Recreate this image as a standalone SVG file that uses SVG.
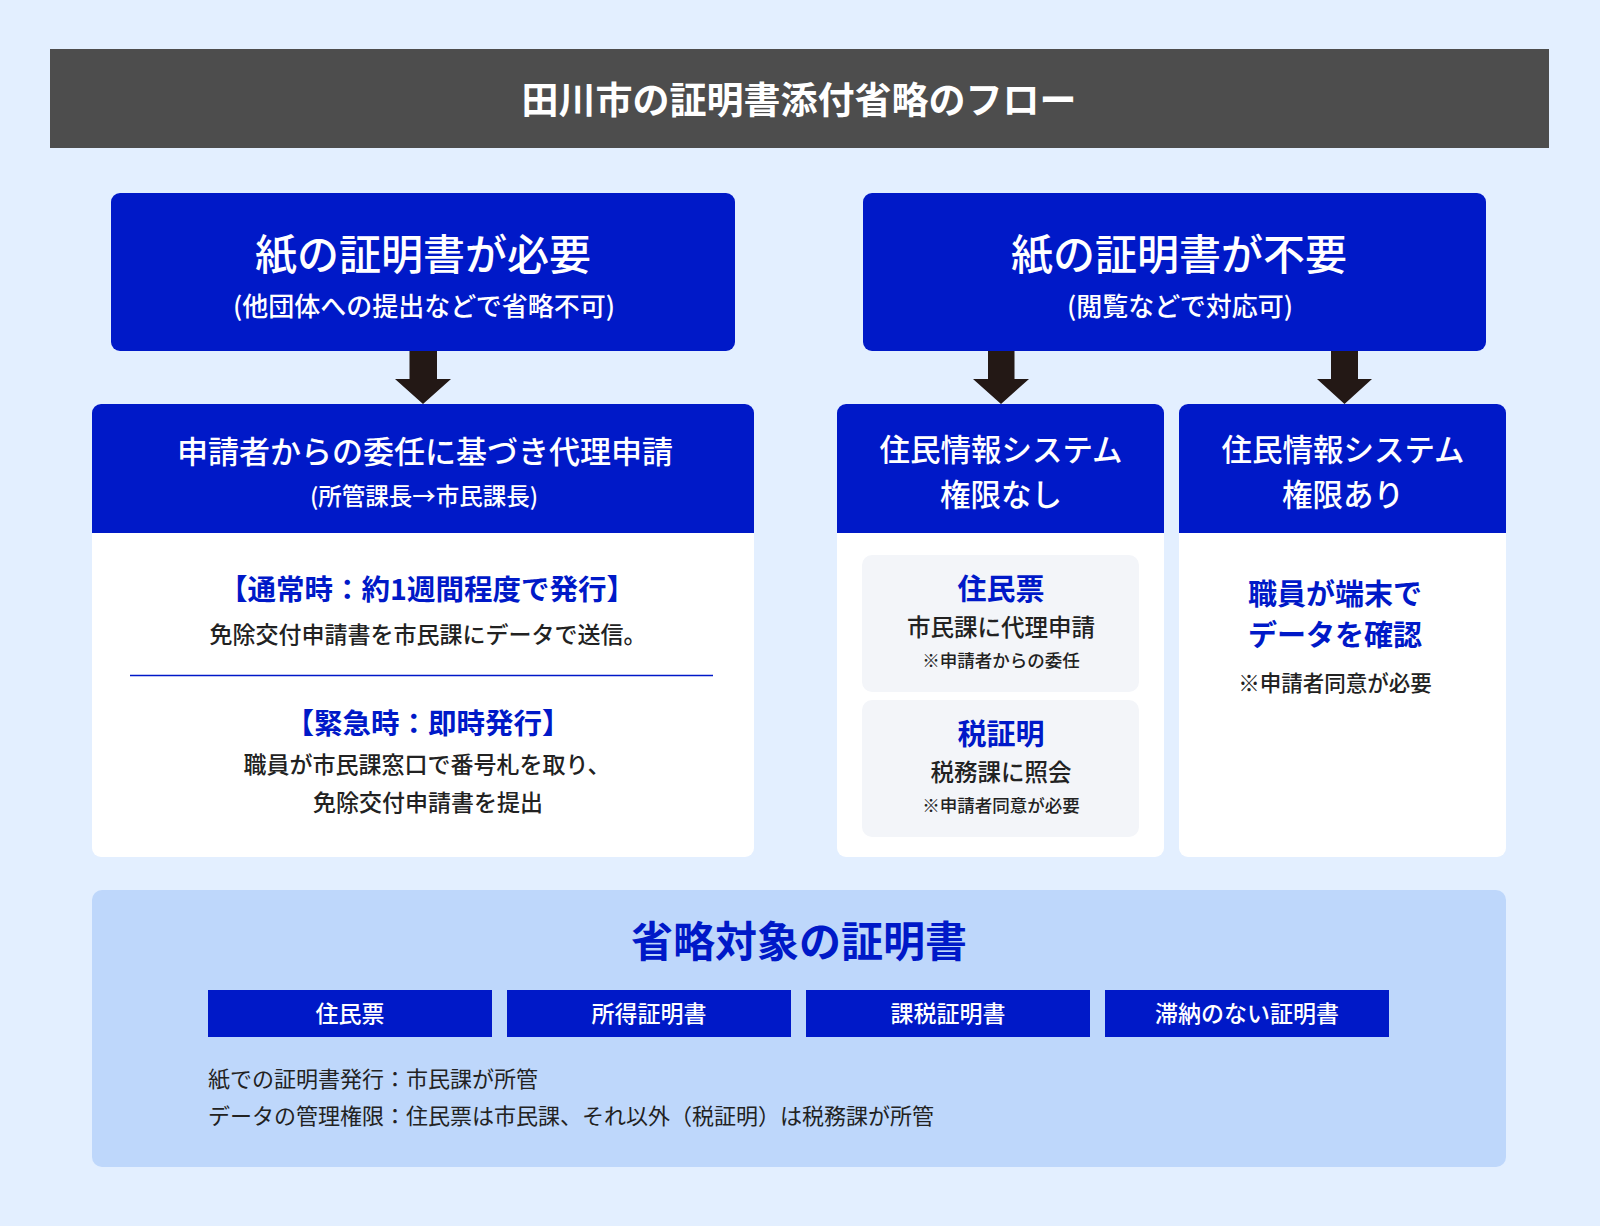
<svg xmlns="http://www.w3.org/2000/svg" width="1600" height="1226" viewBox="0 0 1600 1226">
<defs>
<style>
text{font-family:"Noto Sans CJK JP","Noto Sans CJK SC",sans-serif;}
.c{text-anchor:middle;}
.w{fill:#ffffff;}
.b{fill:#0019c8;}
.d{fill:#222222;}
.blue{fill:#0019c8;}
.arrow{fill:#231815;}
.card{fill:#ffffff;}
.inner{fill:#f3f5f9;}
.tag{fill:#0019c8;}
</style>
</defs>
<rect x="0" y="0" width="1600" height="1226" fill="#e3efff"/>

<g id="title">
<rect x="50" y="49" width="1499" height="99" fill="#4d4d4d"/>
<text x="799" y="114" class="c w" font-size="37" font-weight="700">田川市の証明書添付省略のフロー</text>
</g>

<g id="paper-required">
<rect x="111" y="193" width="624" height="158" rx="9" class="blue"/>
<text x="423" y="270" class="c w" font-size="42" font-weight="500">紙の証明書が必要</text>
<text x="424" y="316" class="c w" font-size="26" font-weight="500">(他団体への提出などで省略不可)</text>
</g>

<g id="paper-not-required">
<rect x="863" y="193" width="623" height="158" rx="9" class="blue"/>
<text x="1179" y="270" class="c w" font-size="42" font-weight="500">紙の証明書が不要</text>
<text x="1180" y="316" class="c w" font-size="26" font-weight="500">(閲覧などで対応可)</text>
</g>

<g id="connectors">
<path class="arrow" d="M409.5 351 H437 V379 H451 L423 404 L395 379 H409.5 Z"/>
<path class="arrow" d="M988 351 H1014.5 V379 H1029 L1001 404 L973 379 H988 Z"/>
<path class="arrow" d="M1331 351 H1358 V379 H1372 L1344.5 404 L1317 379 H1331 Z"/>
</g>

<g id="proxy-application">
<rect x="92" y="404" width="662" height="453" rx="9" class="card"/>
<path d="M92 413 A9 9 0 0 1 101 404 H745 A9 9 0 0 1 754 413 V533 H92 Z" class="blue"/>
<text x="425" y="463" class="c w" font-size="31" font-weight="500">申請者からの委任に基づき代理申請</text>
<text x="424" y="505" class="c w" font-size="23.5" font-weight="500">(所管課長→市民課長)</text>
<text x="427" y="600" class="c b" font-size="28.5" font-weight="700">【通常時：約1週間程度で発行】</text>
<text x="428" y="643" class="c d" font-size="23" font-weight="500">免除交付申請書を市民課にデータで送信。</text>
<line x1="130" y1="675.5" x2="713" y2="675.5" stroke="#0019c8" stroke-width="1.3"/>
<text x="428" y="734" class="c b" font-size="28.5" font-weight="700">【緊急時：即時発行】</text>
<text x="427" y="773" class="c d" font-size="23" font-weight="500">職員が市民課窓口で番号札を取り、</text>
<text x="428" y="811" class="c d" font-size="23" font-weight="500">免除交付申請書を提出</text>
</g>

<g id="no-access">
<rect x="837" y="404" width="327" height="453" rx="9" class="card"/>
<path d="M837 413 A9 9 0 0 1 846 404 H1155 A9 9 0 0 1 1164 413 V533 H837 Z" class="blue"/>
<text x="1001" y="461" class="c w" font-size="30.5" font-weight="500">住民情報システム</text>
<text x="1001" y="506" class="c w" font-size="30.5" font-weight="500">権限なし</text>
<rect x="862" y="555" width="277" height="137" rx="10" class="inner"/>
<text x="1001" y="600" class="c b" font-size="29" font-weight="700">住民票</text>
<text x="1001" y="636" class="c d" font-size="23.5" font-weight="500">市民課に代理申請</text>
<text x="1001" y="667" class="c d" font-size="17.5" font-weight="500">※申請者からの委任</text>
<rect x="862" y="700" width="277" height="137" rx="10" class="inner"/>
<text x="1001" y="745" class="c b" font-size="29" font-weight="700">税証明</text>
<text x="1001" y="781" class="c d" font-size="23.5" font-weight="500">税務課に照会</text>
<text x="1001" y="812" class="c d" font-size="17.5" font-weight="500">※申請者同意が必要</text>
</g>

<g id="with-access">
<rect x="1179" y="404" width="327" height="453" rx="9" class="card"/>
<path d="M1179 413 A9 9 0 0 1 1188 404 H1497 A9 9 0 0 1 1506 413 V533 H1179 Z" class="blue"/>
<text x="1343" y="461" class="c w" font-size="30.5" font-weight="500">住民情報システム</text>
<text x="1343" y="506" class="c w" font-size="30.5" font-weight="500">権限あり</text>
<text x="1335" y="605" class="c b" font-size="29" font-weight="700">職員が端末で</text>
<text x="1335" y="646" class="c b" font-size="29" font-weight="700">データを確認</text>
<text x="1335" y="691" class="c d" font-size="21.5" font-weight="500">※申請者同意が必要</text>
</g>

<g id="targets">
<rect x="92" y="890" width="1414" height="277" rx="10" fill="#bed7fb"/>
<text x="799" y="957" class="c b" font-size="42" font-weight="700">省略対象の証明書</text>
<rect x="208" y="990" width="284" height="47" class="tag"/>
<text x="350" y="1022" class="c w" font-size="23" font-weight="500">住民票</text>
<rect x="507" y="990" width="284" height="47" class="tag"/>
<text x="649" y="1022" class="c w" font-size="23" font-weight="500">所得証明書</text>
<rect x="806" y="990" width="284" height="47" class="tag"/>
<text x="948" y="1022" class="c w" font-size="23" font-weight="500">課税証明書</text>
<rect x="1105" y="990" width="284" height="47" class="tag"/>
<text x="1247" y="1022" class="c w" font-size="23" font-weight="500">滞納のない証明書</text>
<text x="208" y="1087" class="d" font-size="22" font-weight="400">紙での証明書発行：市民課が所管</text>
<text x="208" y="1124" class="d" font-size="22" font-weight="400">データの管理権限：住民票は市民課、それ以外（税証明）は税務課が所管</text>
</g>
</svg>
